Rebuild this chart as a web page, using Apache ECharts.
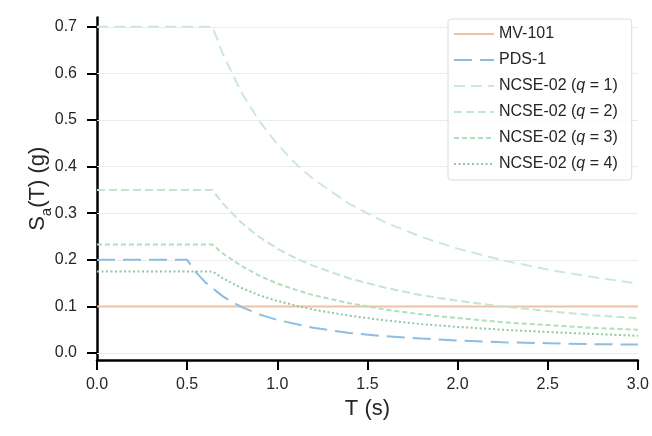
<!DOCTYPE html>
<html>
<head>
<meta charset="utf-8">
<script src="https://cdn.jsdelivr.net/npm/echarts@6/dist/echarts.min.js"></script>
<style>
html,body{margin:0;padding:0;background:#fff;}
#chart{width:652px;height:436px;}
</style>
</head>
<body>
<div id="chart"></div>
<script>
// ---- data ----
const yTicks = [0.0, 0.1, 0.2, 0.3, 0.4, 0.5, 0.6, 0.7];
const xTicks = [0.0, 0.5, 1.0, 1.5, 2.0, 2.5, 3.0];

const T_mv = [0, 3.0];
const mv101 = [0.1, 0.1];

const T_pds = [0, 0.5, 0.55, 0.6, 0.7, 0.8, 0.9, 1.0, 1.2, 1.4, 1.6, 1.8, 2.0, 2.25, 2.5, 2.75, 3.0];
const pds1 = [0.2, 0.2, 0.173, 0.152, 0.121, 0.099, 0.083, 0.071, 0.054, 0.043, 0.036, 0.031, 0.027, 0.023, 0.021, 0.019, 0.018];

const T_ncse = [0, 0.64, 0.7, 0.8, 0.9, 1.0, 1.1, 1.2, 1.4, 1.6, 1.8, 2.0, 2.25, 2.5, 2.75, 3.0];
const ncseQ1 = [0.70, 0.70, 0.64, 0.56, 0.498, 0.448, 0.407, 0.373, 0.32, 0.28, 0.249, 0.224, 0.199, 0.179, 0.163, 0.149];
const ncseQ2 = [0.35, 0.35, 0.32, 0.28, 0.249, 0.224, 0.204, 0.187, 0.16, 0.14, 0.124, 0.112, 0.10, 0.09, 0.081, 0.075];
const ncseQ3 = [0.233, 0.233, 0.213, 0.187, 0.166, 0.149, 0.136, 0.124, 0.107, 0.093, 0.083, 0.075, 0.066, 0.06, 0.054, 0.05];
const ncseQ4 = [0.175, 0.175, 0.16, 0.14, 0.124, 0.112, 0.102, 0.093, 0.08, 0.07, 0.062, 0.056, 0.05, 0.045, 0.041, 0.037];

const seriesNames = ['MV-101', 'PDS-1', 'NCSE-02 (q = 1)', 'NCSE-02 (q = 2)', 'NCSE-02 (q = 3)', 'NCSE-02 (q = 4)'];

// ---- build ----
const zip = (xs, ys) => xs.map((x, i) => [x, ys[i]]);
const FONT = 'Liberation Sans';
const TXT = '#262626';

function lineSeries(name, xs, ys, color, type) {
  return {
    name: name, type: 'line', data: zip(xs, ys), symbol: 'none', smooth: false,
    lineStyle: { color: color, width: 2, type: type, cap: 'butt' },
    itemStyle: { color: color },
    z: 10, animation: false
  };
}

const series = [
  {
    name: '_grid', type: 'line', data: [], silent: true, z: 1, animation: false,
    markLine: {
      silent: true, symbol: ['none', 'none'], label: { show: false }, z: 1,
      lineStyle: { color: '#ebebeb', width: 1, type: 'solid' },
      emphasis: { disabled: true },
      data: yTicks.map(v => ({ yAxis: v })),
      animation: false
    }
  },
  lineSeries(seriesNames[0], T_mv, mv101, '#efc2a4', 'solid'),
  lineSeries(seriesNames[1], T_pds, pds1, '#8dbde0', [18, 8]),
  lineSeries(seriesNames[2], T_ncse, ncseQ1, '#cce9d6', [11, 6]),
  lineSeries(seriesNames[3], T_ncse, ncseQ2, '#c4e6cd', [8, 4]),
  lineSeries(seriesNames[4], T_ncse, ncseQ3, '#ade0bb', [5, 3]),
  lineSeries(seriesNames[5], T_ncse, ncseQ4, '#8fca9f', [2, 2.5])
];

const chart = echarts.init(document.getElementById('chart'), null, { renderer: 'canvas' });
chart.setOption({
  animation: false,
  backgroundColor: '#ffffff',
  textStyle: { fontFamily: FONT },
  grid: { left: 97, right: 11, top: 17.5, bottom: 76, containLabel: false },
  xAxis: {
    type: 'value', min: 0, max: 3.0, interval: 0.5,
    name: 'T (s)', nameLocation: 'middle', nameGap: 37,
    nameTextStyle: { fontFamily: FONT, fontSize: 22, color: TXT },
    axisLine: { show: true, onZero: false, lineStyle: { color: '#000', width: 2.5 } },
    axisTick: { show: true, inside: false, length: 10, lineStyle: { color: '#000', width: 2 } },
    axisLabel: { fontFamily: FONT, fontSize: 16, color: TXT, margin: 17, formatter: v => v.toFixed(1),
                 customValues: xTicks },
    splitLine: { show: false }
  },
  yAxis: {
    type: 'value', min: -0.015, max: 0.72,
    name: '{s|S}{sub|a}{s|(T) (g)}', nameLocation: 'middle', nameGap: 48, nameRotate: 90,
    nameMoveOverlap: false,
    nameTextStyle: {
      fontFamily: FONT, fontSize: 22, color: TXT,
      rich: {
        s: { fontFamily: FONT, fontSize: 22, color: TXT, lineHeight: 28, verticalAlign: 'bottom' },
        sub: { fontFamily: FONT, fontSize: 15, color: TXT, lineHeight: 28, verticalAlign: 'bottom', padding: [0, 0, -5, 0] }
      }
    },
    axisLine: { show: true, lineStyle: { color: '#000', width: 2.5 } },
    axisTick: { show: true, inside: false, length: 10, lineStyle: { color: '#000', width: 2 }, customValues: yTicks },
    axisLabel: { fontFamily: FONT, fontSize: 16, color: TXT, margin: 20, formatter: v => v.toFixed(1), customValues: yTicks },
    splitLine: { show: false }
  },
  legend: {
    data: seriesNames,
    orient: 'vertical', left: 448, top: 19,
    padding: [7, 14, 8, 5],
    itemWidth: 40, itemHeight: 14, itemGap: 10,
    itemStyle: { opacity: 0 },
    backgroundColor: 'rgba(255,255,255,0.8)',
    borderColor: '#dcdcdc', borderWidth: 1, borderRadius: 3,
    textStyle: {
      fontFamily: FONT, fontSize: 16, color: TXT,
      rich: {
        n: { fontFamily: FONT, fontSize: 16, color: TXT, lineHeight: 18 },
        i: { fontFamily: FONT, fontSize: 16, color: TXT, lineHeight: 18, fontStyle: 'italic' }
      }
    },
    formatter: function (name) {
      const m = name.match(/^NCSE-02 \(q = (\d)\)$/);
      if (m) return '{n|NCSE-02 (}{i|q}{n| = ' + m[1] + ')}';
      return '{n|' + name + '}';
    },
    selectedMode: false
  },
  series: series
});
</script>
</body>
</html>
